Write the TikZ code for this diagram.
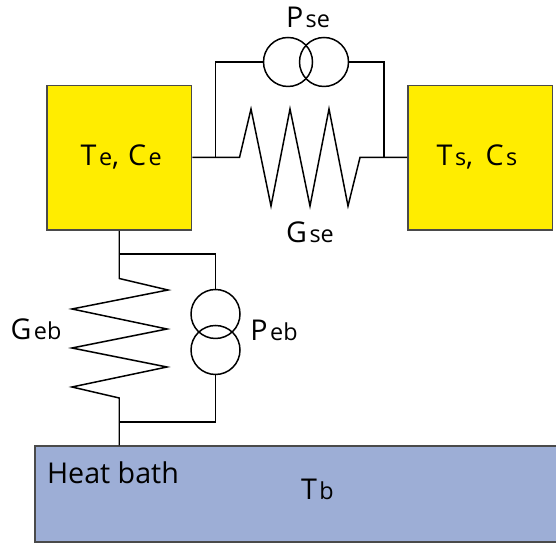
\documentclass[tikz,border=0pt]{standalone}
\usepackage{fontspec}
\setmainfont{Open Sans}
\usetikzlibrary{positioning}
\definecolor{blockyellow}{HTML}{FFED00}
\definecolor{bathblue}{HTML}{9DAED6}
\definecolor{edgegray}{HTML}{4A4A4A}
\newcommand{\bigsub}[2]{#1{\fontsize{13.3}{15}\selectfont\hspace{1.4pt}#2}}
\tikzset{
  wire/.style={line width=0.85pt,line join=miter},
  block/.style={draw=edgegray,line width=0.85pt,fill=blockyellow,minimum size=2.89cm,inner sep=0pt},
  source/.style={draw,line width=0.85pt,circle,minimum size=0.98cm,inner sep=0pt},
  tag/.style={inner sep=0pt,font=\fontsize{16.3}{19}\selectfont}
}
\begin{document}
\begin{tikzpicture}
\useasboundingbox (0,0) rectangle (11.12,10.86);
% blocks
\node[block,tag] (Te) at (2.385,7.70) {\raisebox{3pt}{\hspace{0.08cm}\bigsub{T}{e},\hspace{0.03cm} \bigsub{C}{e}}};
\node[block,tag] (Ts) at (9.60,7.70) {\raisebox{3.5pt}{\bigsub{T}{s},\hspace{0.1cm} \bigsub{C}{s}\hspace{0.12cm}}};
\node[draw=edgegray,line width=0.85pt,fill=bathblue,minimum width=10.45cm,minimum height=1.92cm,inner sep=0pt] (Bath) at (5.925,0.98) {};
% sources
\node[source] (Pse1) at (5.76,9.62) {};
\node[source] (Pse2) at (6.48,9.62) {};
\node[source] (Peb1) at (4.31,4.58) {};
\node[source] (Peb2) at (4.31,3.86) {};
% top branch
\coordinate (Sa) at (4.31,7.71);
\coordinate (Sb) at (7.68,7.71);
\coordinate (Sc) at (4.31,9.62);
\coordinate (Sd) at (7.68,9.62);
\coordinate (Se) at (Te.east |- Sa);
\coordinate (Sf) at (Ts.west |- Sb);
\draw[wire] (Se)--(Sa)--(4.79,7.71)--(5.02,8.68)--(5.42,6.74)--(5.80,8.68)--(6.20,6.74)--(6.58,8.68)--(6.96,6.74)--(7.20,7.71)--(Sb)--(Sf);
\draw[wire] (Sa)--(Sc)--(Pse1.west);
\draw[wire] (Sb)--(Sd)--(Pse2.east);
% lower branch
\coordinate (Ba) at (Te.south |- 0,5.78);
\coordinate (Bb) at (Te.south |- 0,2.42);
\coordinate (Bc) at (Peb1.north |- Ba);
\coordinate (Bd) at (Peb2.south |- Bb);
\coordinate (Be) at (Te.south |- Bath.north);
\draw[wire] (Te.south)--(Ba)--(2.385,5.29)--(3.36,5.06)--(1.44,4.68)--(3.34,4.28)--(1.44,3.90)--(3.34,3.52)--(1.44,3.12)--(2.385,2.90)--(Bb)--(Be);
\draw[wire] (Ba)--(Bc)--(Peb1.north);
\draw[wire] (Bb)--(Bd)--(Peb2.south);
% labels
\node[tag] (PseText) at (6.16,10.52) {\bigsub{P}{se}};
\node[tag] (GseText) at (6.20,6.22) {\bigsub{G}{se}};
\node[tag] (GebText) at (0.72,4.28) {\bigsub{G}{eb}};
\node[tag] (PebText) at (5.48,4.26) {\bigsub{P}{eb}};
\node[tag] (BathText) at (2.26,1.40) {Heat bath};
\node[tag] (TbText) at (6.35,1.08) {\bigsub{T}{b}};
\end{tikzpicture}
\end{document}
